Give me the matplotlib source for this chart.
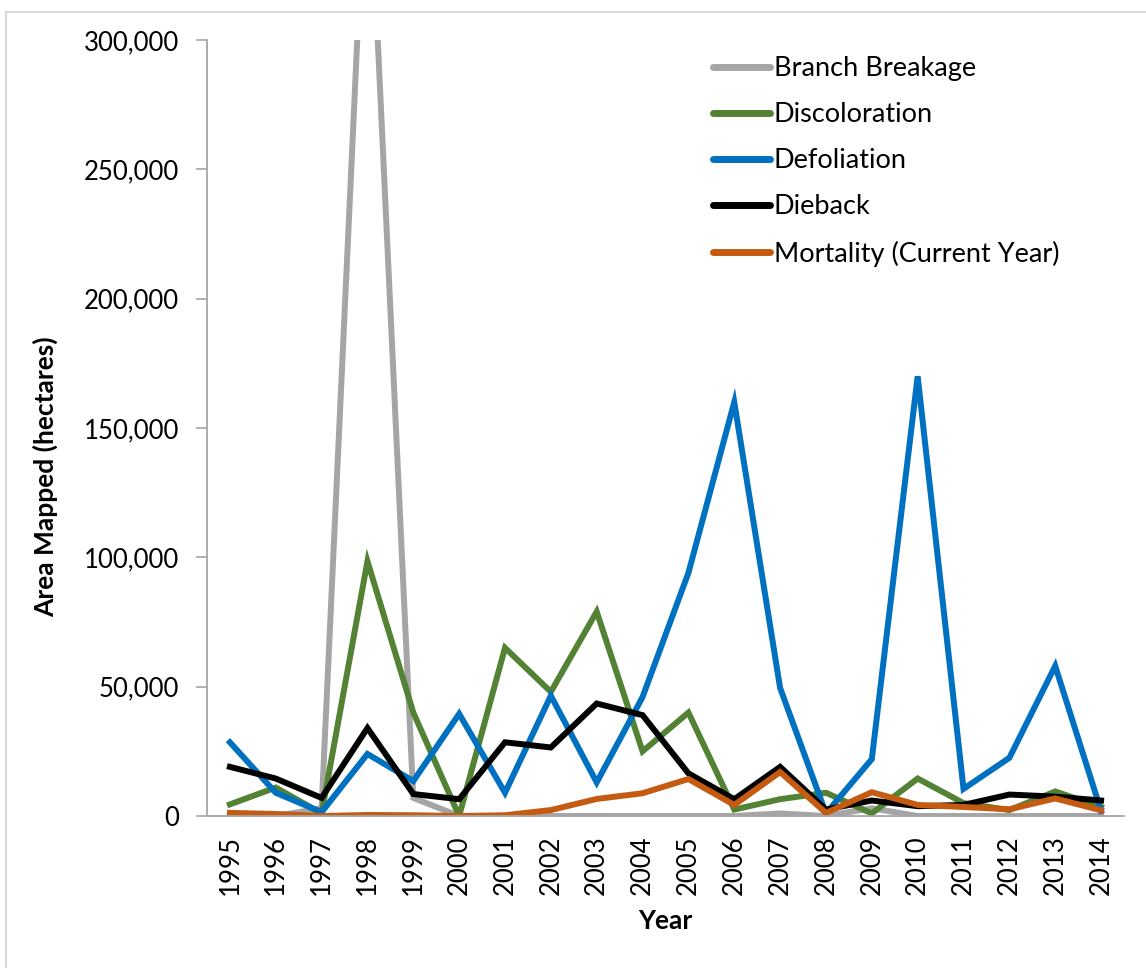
import matplotlib
matplotlib.use("Agg")
import matplotlib.pyplot as plt
from matplotlib.lines import Line2D
import numpy as np

plt.rcParams['font.family'] = ['Lato', 'DejaVu Sans']

# Annual area mapped by damage type (hectares)
years = [str(y) for y in range(1995, 2015)]
branch_breakage = [0, 0, 3000, 385000, 7000, 0, 0, 0, 0, 0,
                   0, 0, 1000, 0, 3000, 0, 0, 0, 0, 0]
discoloration = [4500, 11000, 1000, 98500, 40000, 0, 65000, 48000, 79000, 25000,
                 40000, 2500, 6500, 9000, 1000, 14500, 5000, 2300, 9500, 3500]
defoliation = [28500, 9000, 1500, 24000, 13500, 39500, 9000, 46500, 13000, 46000,
               94000, 160000, 49500, 1000, 22000, 170000, 10500, 22500, 58000, 2000]
dieback = [19000, 14500, 7000, 34000, 8500, 6500, 28500, 26500, 43500, 39000,
           16500, 6500, 19000, 2500, 6000, 3800, 4300, 8300, 7500, 6000]
mortality = [1200, 800, 0, 400, 300, 0, 300, 2300, 6600, 8800,
             14300, 4300, 17000, 1200, 9200, 4300, 3500, 2600, 6800, 2200]

series = [
    ("Branch Breakage", branch_breakage, "#a5a5a5"),
    ("Discoloration", discoloration, "#548235"),
    ("Defoliation", defoliation, "#0070c0"),
    ("Dieback", dieback, "#000000"),
    ("Mortality (Current Year)", mortality, "#c55a11"),
]

fig = plt.figure(figsize=(11.46, 9.68), dpi=100)
ax = fig.add_axes([0.1806, 0.157, 0.8002, 0.8017])

x = np.arange(len(years))
for name, vals, color in series:
    ax.plot(x, vals, color=color, lw=4.3, label=name, solid_joinstyle='miter')

ax.set_xlim(-0.5, len(years) - 0.5)
ax.set_ylim(0, 300000)
ax.set_yticks(np.arange(0, 300001, 50000))
ax.yaxis.set_major_formatter(matplotlib.ticker.FuncFormatter(lambda v, p: f"{int(v):,}"))
ax.set_xticks(x)
ax.set_xticklabels(years, rotation=90)

ax.tick_params(axis='y', labelsize=18.5, length=8, width=1.2, color='#a6a6a6', pad=12)
ax.tick_params(axis='x', labelsize=18.5, length=0, pad=14)

for side in ['top', 'right']:
    ax.spines[side].set_visible(False)
for side in ['left', 'bottom']:
    ax.spines[side].set_color('#a6a6a6')
    ax.spines[side].set_linewidth(1.3)

ax.set_ylabel("Area Mapped (hectares)", fontsize=19, fontweight='bold')
ax.set_xlabel("Year", fontsize=19, fontweight='bold', labelpad=10)
ax.yaxis.set_label_coords(-0.162, 0.437)

leg = fig.legend(loc='upper left', bbox_to_anchor=(713 / 1146, 1 - 56 / 968),
                 frameon=False, prop={'size': 19.5}, handlelength=2.1,
                 handletextpad=0.15, labelspacing=0.78, borderpad=0,
                 borderaxespad=0)
for h in leg.get_lines():
    h.set_linewidth(5)
    h.set_solid_capstyle('round')

# light frame along the top and left edges
fig.add_artist(Line2D([6 / 1146, 1], [1 - 12 / 968, 1 - 12 / 968],
                      transform=fig.transFigure, color='#d9d9d9', lw=1.5))
fig.add_artist(Line2D([6 / 1146, 6 / 1146], [0, 1 - 12 / 968],
                      transform=fig.transFigure, color='#d9d9d9', lw=1.5))

fig.savefig("out.png", dpi=100)
